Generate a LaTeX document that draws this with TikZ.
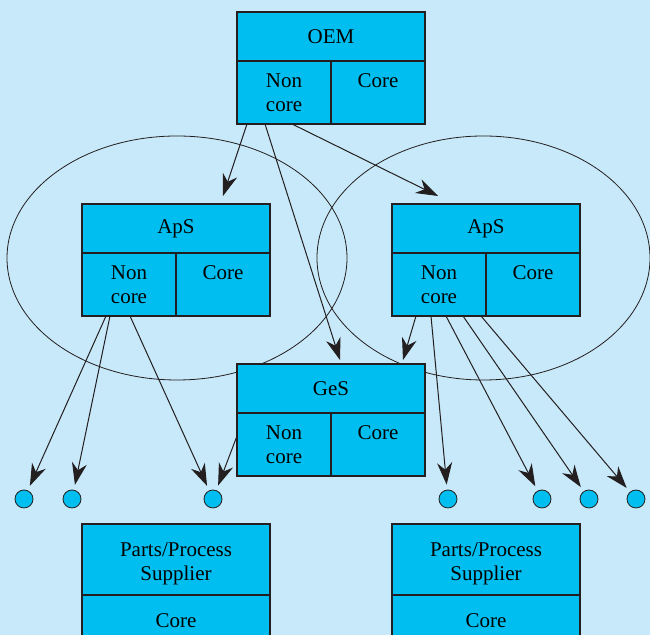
\documentclass[tikz,border=0pt]{standalone}
\usepackage{fontspec}
\setmainfont{Liberation Serif}
\usetikzlibrary{positioning,arrows.meta}
\definecolor{bgblue}{HTML}{C8E9F9}
\definecolor{boxblue}{HTML}{00BFF0}
\definecolor{inkdark}{HTML}{231F20}

\begin{document}
\begin{tikzpicture}[x=0.5pt,y=-0.5pt,
	font=\fontsize{10.5pt}{12pt}\selectfont,
	hdr/.style={draw=inkdark,fill=boxblue,line width=0.6pt,minimum width=94pt,minimum height=24.5pt,inner sep=0pt,outer sep=0pt,align=center},
	cell/.style={draw=inkdark,fill=boxblue,line width=0.6pt,minimum width=47pt,minimum height=31.5pt,inner sep=0pt,outer sep=0pt,align=center},
	dot/.style={circle,draw=inkdark,fill=boxblue,line width=0.4pt,minimum size=9pt,inner sep=0pt},
	link/.style={draw=inkdark,line width=0.5pt,-{Stealth[length=11pt,width=7.5pt,inset=3.5pt]}},
	ring/.style={draw=inkdark,line width=0.4pt}]
	\fill[bgblue] (0,0) rectangle (650,635);
	\clip (0,0) rectangle (650,635);
	% the two rings
	\draw[ring] (177,258) ellipse [x radius=85pt,y radius=61pt];
	\draw[ring] (483.5,258) ellipse [x radius=83.25pt,y radius=61pt];
	% OEM
	\node[hdr] (oem) at (331,36.5) {OEM};
	\node[cell,below right=0pt of oem.south west] (oemN) {Non\\core};
	\node[cell,below left=0pt of oem.south east] (oemC) {Core\\\mbox{}};
	% ApS left and right
	\node[hdr] (apsL) at (176,228.5) {ApS};
	\node[cell,below right=0pt of apsL.south west] (apsLN) {Non\\core};
	\node[cell,below left=0pt of apsL.south east] (apsLC) {Core\\\mbox{}};
	\node[hdr] (apsR) at (486,228.5) {ApS};
	\node[cell,below right=0pt of apsR.south west] (apsRN) {Non\\core};
	\node[cell,below left=0pt of apsR.south east] (apsRC) {Core\\\mbox{}};
	% GeS
	\node[hdr] (ges) at (331,388.5) {GeS};
	\node[cell,below right=0pt of ges.south west] (gesN) {Non\\core};
	\node[cell,below left=0pt of ges.south east] (gesC) {Core\\\mbox{}};
	% suppliers
	\node[hdr,minimum height=35.5pt,align=none,text height=10.4pt,text depth=13.6pt] (supL) at (176,559.5)
		{\begin{tabular}[t]{@{}c@{}}Parts/Process\\Supplier\end{tabular}};
	\node[hdr,minimum height=26pt,below=0pt of supL.south] (supLC) {Core};
	\node[hdr,minimum height=35.5pt,align=none,text height=10.4pt,text depth=13.6pt] (supR) at (486,559.5)
		{\begin{tabular}[t]{@{}c@{}}Parts/Process\\Supplier\end{tabular}};
	\node[hdr,minimum height=26pt,below=0pt of supR.south] (supRC) {Core};
	% dots
	\foreach \n/\x in {1/24,2/72,3/213,4/448,5/542,6/589,7/636}
		\node[dot] (d\n) at (\x,499) {};
	% arrows
	\draw[link] ([xshift=5pt]oemN.south west) -- ([xshift=70.5pt,yshift=4pt]apsL.north west);
	\draw[link] ([xshift=14pt]oemN.south west) -- ([xshift=51.5pt,yshift=2pt]ges.north west);
	\draw[link] ([xshift=27.5pt]oemN.south west) -- ([xshift=23pt,yshift=4pt]apsR.north west);
	\draw[link] ([xshift=12pt]apsRN.south west) -- ([xshift=83pt,yshift=2pt]ges.north west);
	\draw[link,shorten >=2.5pt] ([xshift=12pt]apsLN.south west) -- (d1);
	\draw[link,shorten >=2.5pt] ([xshift=14pt]apsLN.south west) -- (d2);
	\draw[link,shorten >=2.5pt] ([xshift=24pt]apsLN.south west) -- (d3);
	\draw[link,shorten >=2.5pt] ([yshift=-11.5pt]gesN.north west) -- (d3);
	\draw[link,shorten >=2.5pt] ([xshift=19.5pt]apsRN.south west) -- (d4);
	\draw[link,shorten >=2.5pt] ([xshift=27pt]apsRN.south west) -- (d5);
	\draw[link,shorten >=2.5pt] ([xshift=35.5pt]apsRN.south west) -- (d6);
	\draw[link,shorten >=2.5pt] ([xshift=44.5pt]apsRN.south west) -- (d7);
\end{tikzpicture}
\end{document}
